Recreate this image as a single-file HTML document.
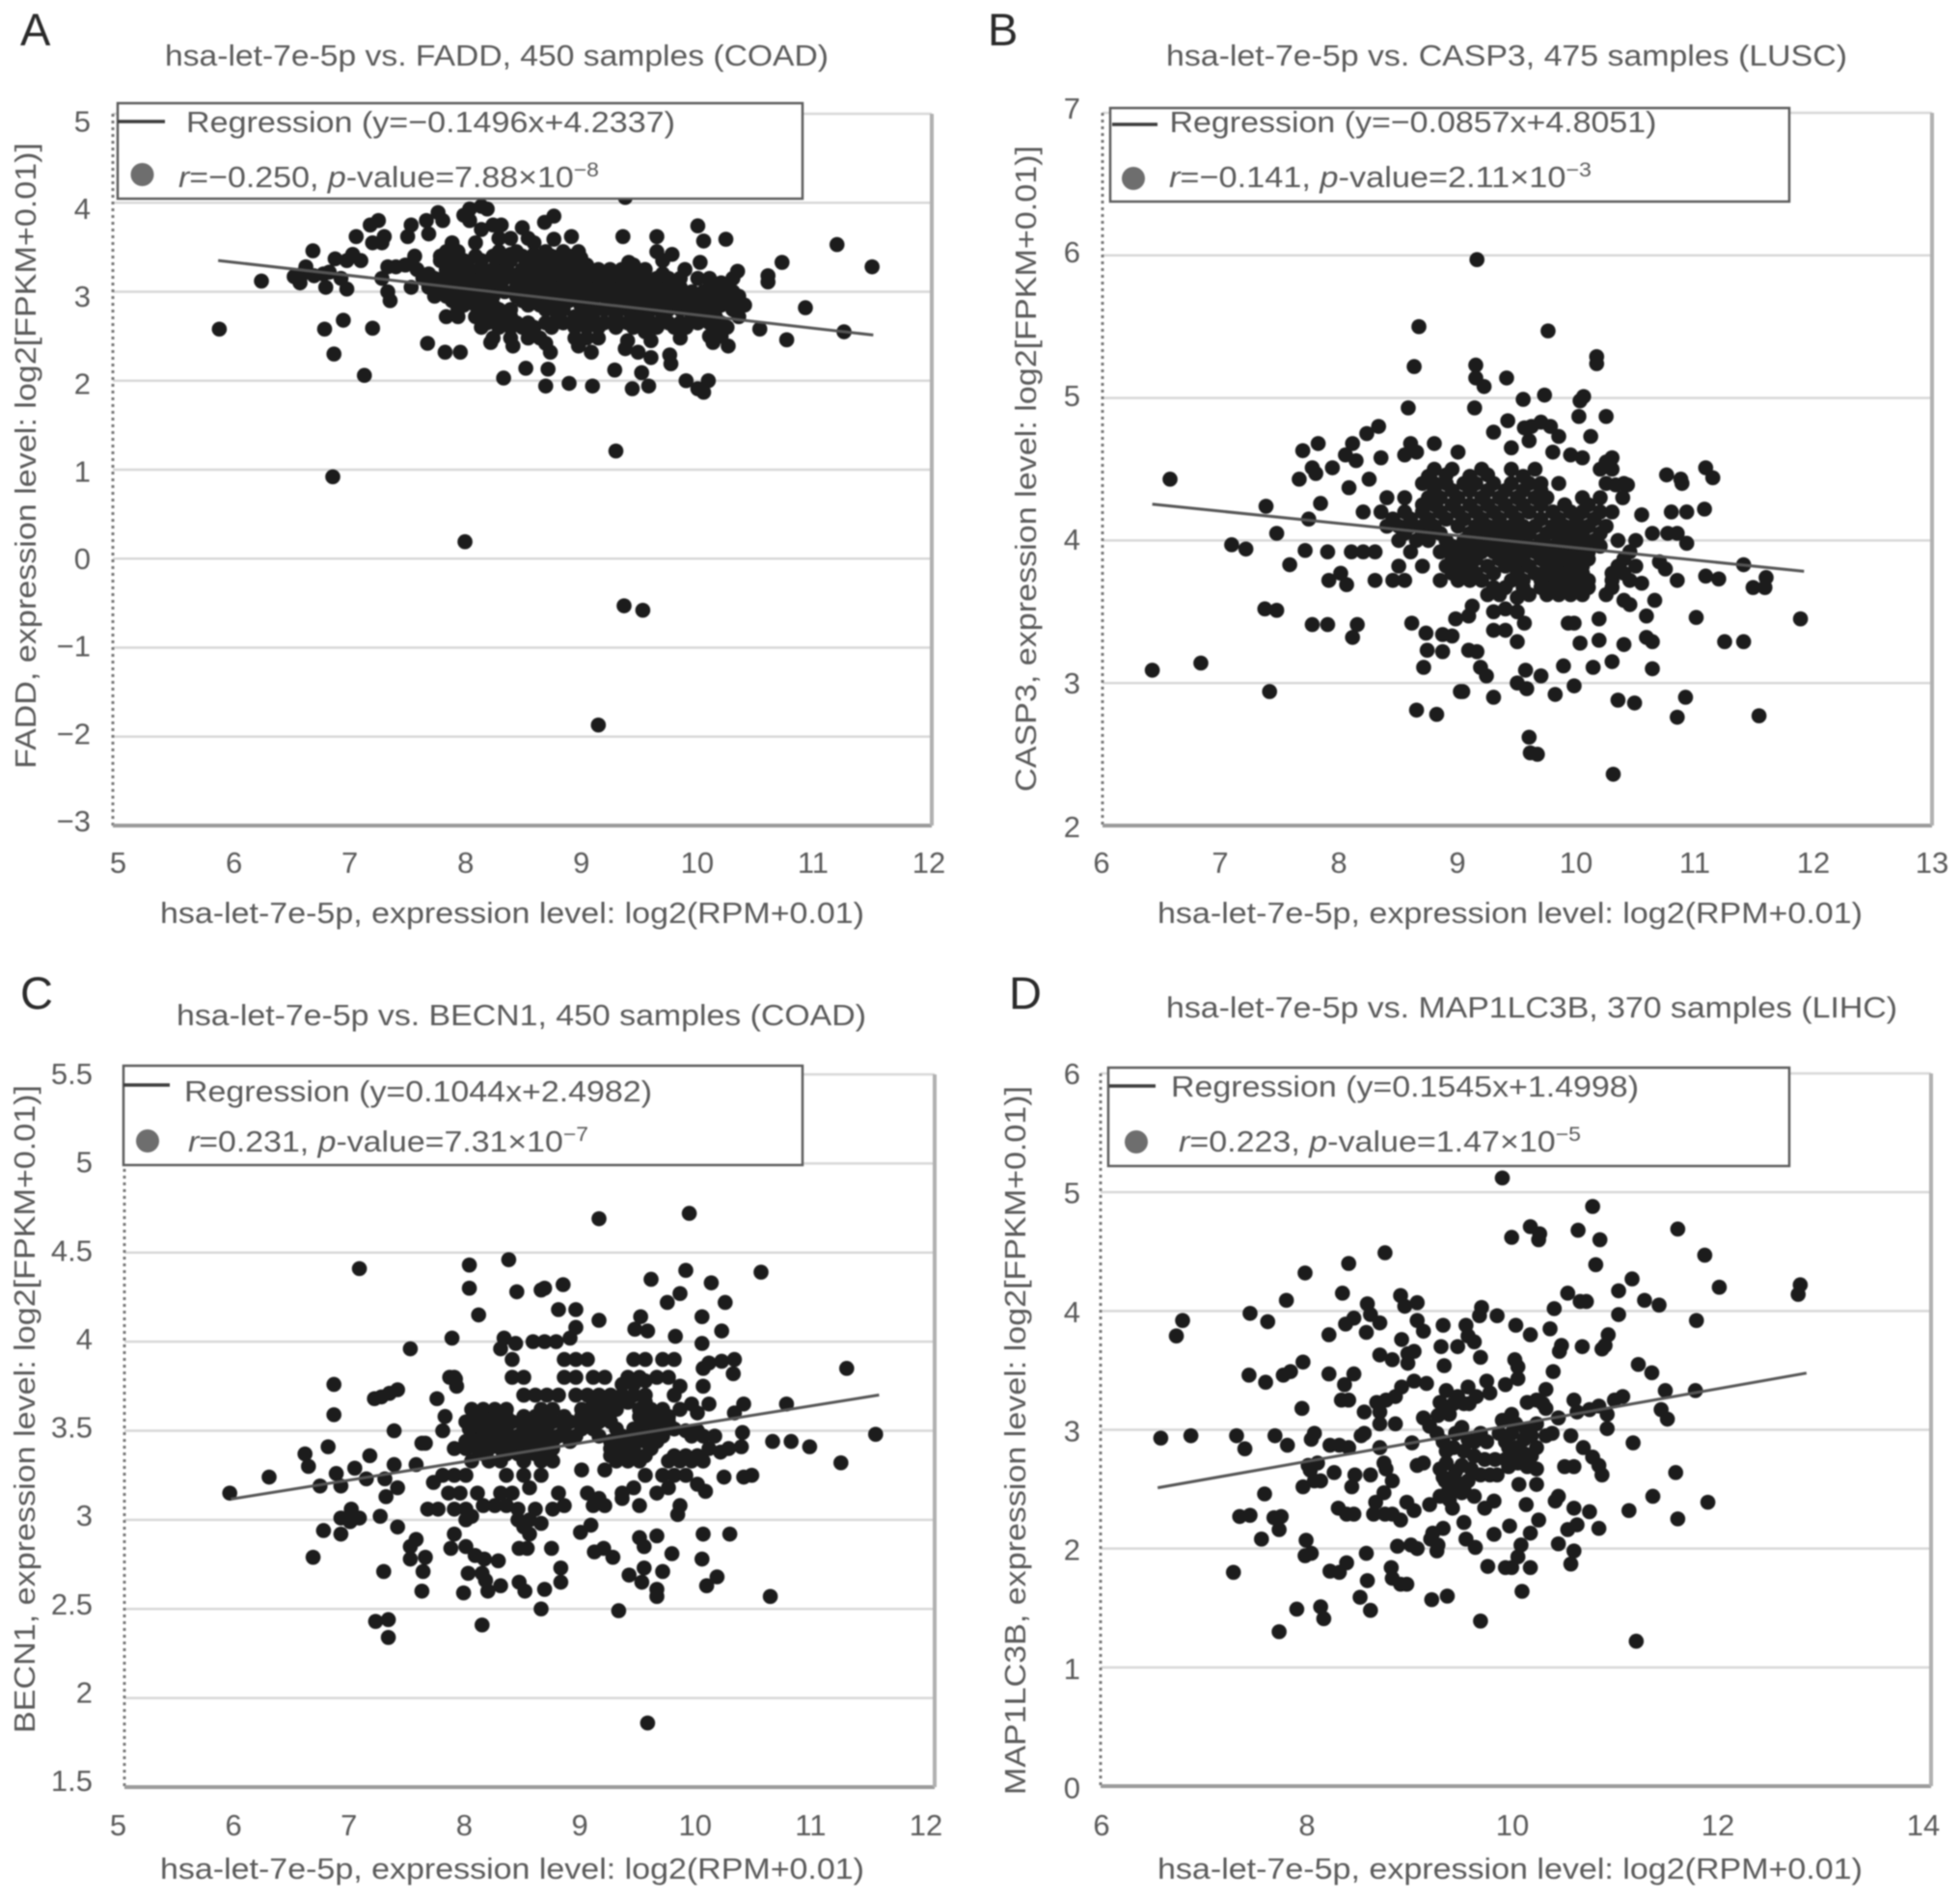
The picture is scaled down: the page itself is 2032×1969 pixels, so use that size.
<!DOCTYPE html>
<html lang="en">
<head>
<meta charset="utf-8">
<title>hsa-let-7e-5p correlation scatter plots</title>
<style>
html,body{margin:0;padding:0;background:#fff;width:2032px;height:1969px;overflow:hidden}
svg{display:block;filter:blur(0.9px)}
text{font-family:"Liberation Sans",sans-serif;fill:#5a5a5a}
.title{font-size:31px}
.axt{font-size:31px}
.leg{font-size:31px}
.letter{font-size:47px;fill:#2a2a2a}
.tick{font-size:31px}
.sup{font-size:21px}
</style>
</head>
<body>
<svg id="figure" xmlns="http://www.w3.org/2000/svg" width="2032" height="1969" viewBox="0 0 2032 1969">
<rect width="2032" height="1969" fill="#fff"/>

<g id="panel-a">
<text class="letter" x="21" y="47">A</text>
<text class="title" x="171" y="68" textLength="688" lengthAdjust="spacingAndGlyphs">hsa-let-7e-5p vs. FADD, 450 samples (COAD)</text>
<g id="plot-a"></g>
<text class="axt" x="166" y="957" textLength="730" lengthAdjust="spacingAndGlyphs">hsa-let-7e-5p, expression level: log2(RPM+0.01)</text>
<text class="axt" transform="translate(37 797) rotate(-90)" textLength="649" lengthAdjust="spacingAndGlyphs">FADD, expression level: log2[FPKM+0.01)]</text>
<g>
<rect x="122" y="107" width="710" height="99" fill="#fff" stroke="#5c5c5c" stroke-width="2.5"/>
<line x1="122" y1="126" x2="171" y2="126" stroke="#3c3c3c" stroke-width="3.5"/>
<circle cx="147.5" cy="181" r="12" fill="#6e6e6e"/>
<text class="leg" x="193" y="137" textLength="507" lengthAdjust="spacingAndGlyphs">Regression (y=−0.1496x+4.2337)</text>
<text class="leg" x="185" y="194" textLength="436" lengthAdjust="spacingAndGlyphs"><tspan font-style="italic">r</tspan>=−0.250, <tspan font-style="italic">p</tspan>-value=7.88×10<tspan class="sup" dy="-11">−8</tspan></text>
</g>
</g>

<g id="panel-b">
<text class="letter" x="1024" y="47">B</text>
<text class="title" x="1209" y="68" textLength="706" lengthAdjust="spacingAndGlyphs">hsa-let-7e-5p vs. CASP3, 475 samples (LUSC)</text>
<g id="plot-b"></g>
<text class="axt" x="1200" y="957" textLength="731" lengthAdjust="spacingAndGlyphs">hsa-let-7e-5p, expression level: log2(RPM+0.01)</text>
<text class="axt" transform="translate(1074 821) rotate(-90)" textLength="670" lengthAdjust="spacingAndGlyphs">CASP3, expression level: log2[FPKM+0.01)]</text>
<g>
<rect x="1151" y="112" width="704" height="97" fill="#fff" stroke="#5c5c5c" stroke-width="2.5"/>
<line x1="1153" y1="129" x2="1200" y2="129" stroke="#3c3c3c" stroke-width="3.5"/>
<circle cx="1175" cy="185" r="12" fill="#6e6e6e"/>
<text class="leg" x="1212.5" y="137" textLength="505" lengthAdjust="spacingAndGlyphs">Regression (y=−0.0857x+4.8051)</text>
<text class="leg" x="1212" y="194" textLength="438" lengthAdjust="spacingAndGlyphs"><tspan font-style="italic">r</tspan>=−0.141, <tspan font-style="italic">p</tspan>-value=2.11×10<tspan class="sup" dy="-11">−3</tspan></text>
</g>
</g>

<g id="panel-c">
<text class="letter" x="21" y="1046">C</text>
<text class="title" x="183" y="1063" textLength="715" lengthAdjust="spacingAndGlyphs">hsa-let-7e-5p vs. BECN1, 450 samples (COAD)</text>
<g id="plot-c"></g>
<text class="axt" x="166" y="1948" textLength="730" lengthAdjust="spacingAndGlyphs">hsa-let-7e-5p, expression level: log2(RPM+0.01)</text>
<text class="axt" transform="translate(36 1797) rotate(-90)" textLength="672" lengthAdjust="spacingAndGlyphs">BECN1, expression level: log2[FPKM+0.01)]</text>
<g>
<rect x="128" y="1105" width="704" height="103" fill="#fff" stroke="#5c5c5c" stroke-width="2.5"/>
<line x1="128" y1="1125" x2="176" y2="1125" stroke="#3c3c3c" stroke-width="3.5"/>
<circle cx="153" cy="1183" r="12" fill="#6e6e6e"/>
<text class="leg" x="191" y="1142" textLength="485" lengthAdjust="spacingAndGlyphs">Regression (y=0.1044x+2.4982)</text>
<text class="leg" x="195" y="1194" textLength="415" lengthAdjust="spacingAndGlyphs"><tspan font-style="italic">r</tspan>=0.231, <tspan font-style="italic">p</tspan>-value=7.31×10<tspan class="sup" dy="-11">−7</tspan></text>
</g>
</g>

<g id="panel-d">
<text class="letter" x="1046" y="1046">D</text>
<text class="title" x="1209" y="1055" textLength="758" lengthAdjust="spacingAndGlyphs">hsa-let-7e-5p vs. MAP1LC3B, 370 samples (LIHC)</text>
<g id="plot-d"></g>
<text class="axt" x="1200" y="1948" textLength="731" lengthAdjust="spacingAndGlyphs">hsa-let-7e-5p, expression level: log2(RPM+0.01)</text>
<text class="axt" transform="translate(1063 1861) rotate(-90)" textLength="735" lengthAdjust="spacingAndGlyphs">MAP1LC3B, expression level: log2[FPKM+0.01)]</text>
<g>
<rect x="1149" y="1107" width="706" height="102" fill="#fff" stroke="#5c5c5c" stroke-width="2.5"/>
<line x1="1150" y1="1126" x2="1198" y2="1126" stroke="#3c3c3c" stroke-width="3.5"/>
<circle cx="1178" cy="1184" r="12" fill="#6e6e6e"/>
<text class="leg" x="1214" y="1137" textLength="485" lengthAdjust="spacingAndGlyphs">Regression (y=0.1545x+1.4998)</text>
<text class="leg" x="1222" y="1194" textLength="417" lengthAdjust="spacingAndGlyphs"><tspan font-style="italic">r</tspan>=0.223, <tspan font-style="italic">p</tspan>-value=1.47×10<tspan class="sup" dy="-11">−5</tspan></text>
</g>
</g>
</svg>

<script>
const xTicksA=[5,6,7,8,9,10,11,12];
const yTicksA=[5,4,3,2,1,0,-1,-2,-3];
const xTicksB=[6,7,8,9,10,11,12,13];
const yTicksB=[7,6,5,4,3,2];
const xTicksC=[5,6,7,8,9,10,11,12];
const yTicksC=[5.5,5,4.5,4,3.5,3,2.5,2,1.5];
const xTicksD=[6,8,10,12,14];
const yTicksD=[6,5,4,3,2,1,0];

const regressionA=[-0.1496,4.2337,5.9,11.5];
const regressionB=[-0.0857,4.8051,6.42,11.92];
const regressionC=[0.1044,2.4982,5.92,11.52];
const regressionD=[0.1545,1.4998,6.55,12.8];

const pointsA=[[5.91,2.58],[6.27,3.12],[6.71,3.46],[6.81,2.58],[6.97,2.68],[6.89,2.3],[7.15,2.06],[7.22,2.59],[6.88,.92],[8.01,.19],[9.3,1.21],[9.37,-.53],[9.53,-.58],[9.15,-1.87],[11.19,3.53],[11.49,3.28],[10.92,2.82],[11.25,2.55],[10.76,2.46],[10.72,3.33],[10.6,3.18],[10.6,3.11],[10.53,2.58],[10.34,3.23],[10.24,3.59],[10,3.74],[10.05,3.57],
[6.55,3.17],[6.6,3.1],[6.62,3.2],[6.65,3.28],[6.72,3.18],[6.8,3.2],[6.82,3.05],[6.85,3.22],[6.9,3.37],[6.95,3.15],[7,3.03],[7,3.35],[7.05,3.42],[7.08,3.62],[7.12,3.35],[7.2,3.75],[7.22,3.55],[7.27,3.8],[7.3,3.55],[7.32,3.62],[7.3,3.15],[7.35,3],[7.37,2.9],[7.35,3.28],[7.42,3.28],[7.5,3.3],[7.52,3.62],[7.55,3.75],[7.58,3.4],[7.6,3.25],[7.55,3.05],[7.68,3.8],[7.7,3.65],[7.7,3.2],[7.65,3.15],[7.69,2.42],[7.84,2.32],[7.97,2.32],[7.78,3.89],[7.82,3.8],[8,3.86],[8.05,3.93],[8.15,3.96],[8.2,3.93],[9.38,4.06],
[8.05,3.8],[8.15,3.7],[8.25,3.75],[8.32,3.75],[8.4,3.6],[8.5,3.72],[8.55,3.6],[8.6,3.55],[8.77,3.85],[8.69,3.78],[8.77,3.59],[8.92,3.62],[8.98,3.45],[9.36,3.62],[9.65,3.62],[9.65,3.45],[9.78,3.42],[9.7,3.35],[9.41,3.33],[9.89,3.25],[10.02,3.33],[7.9,3.55],[8.1,3.55],[8.3,3.6],
[8.34,2.03],[8.53,2.14],[8.7,1.94],[8.72,2.13],[8.9,1.97],[9.1,1.94],[9.29,2.12],[9.44,1.91],[9.52,2.09],[9.58,1.94],[9.77,2.19],[9.9,2],[10,1.91],[10.05,1.87],[10.09,2],[8.23,2.43],[8.42,2.39],[8.74,2.32],[8.98,2.39],[9.09,2.32],[9.38,2.36],[9.49,2.32],[9.6,2.26],[9.76,2.29],[10.13,2.43],[10.26,2.39],
[7.85,3.45],[7.95,3.45],[8.3,3.45],[8.45,3.45],[8.7,3.45],[8.85,3.45],[8.95,3.35],[7.8,3.35],[7.9,3.35],[8,3.35],[8.15,3.35],[8.3,3.35],[8.4,3.35],[8.55,3.35],[8.65,3.35],[8.75,3.35],[8.85,3.35],[9.05,3.3],[9.45,3.3],
[7.85,3.25],[7.95,3.25],[8.05,3.25],[8.15,3.25],[8.25,3.25],[8.35,3.25],[8.5,3.25],[8.6,3.25],[8.7,3.25],[8.8,3.25],[8.9,3.25],[9,3.25],[9.15,3.25],[9.25,3.25],[9.35,3.25],[9.45,3.22],[9.55,3.25],
[7.75,3.15],[7.85,3.15],[7.95,3.15],[8.05,3.15],[8.15,3.15],[8.25,3.15],[8.35,3.15],[8.45,3.15],[8.55,3.15],[8.65,3.15],[8.75,3.15],[8.85,3.15],[8.95,3.15],[9.05,3.15],[9.15,3.15],[9.25,3.15],[9.35,3.15],[9.45,3.15],[9.55,3.15],[9.65,3.15],[9.75,3.15],[10,3.15],[10.3,3.15],
[7.7,3.05],[7.8,3.05],[7.9,3.05],[8,3.05],[8.1,3.05],[8.2,3.05],[8.3,3.05],[8.45,3.05],[8.55,3.05],[8.65,3.05],[8.75,3.05],[8.85,3.05],[8.95,3.05],[9.05,3.05],[9.15,3.05],[9.25,3.05],[9.35,3.05],[9.45,3.05],[9.55,3.05],[9.65,3.05],[9.75,3.05],[9.85,3.05],[10.1,3.05],[10.25,3.05],
[7.75,2.95],[7.85,2.95],[7.95,2.95],[8.05,2.95],[8.15,2.95],[8.25,2.95],[8.45,2.95],[8.55,2.95],[8.65,2.95],[8.75,2.95],[8.85,2.95],[8.95,2.95],[9.2,2.95],[9.3,2.95],[9.4,2.95],[9.5,2.95],[9.6,2.9],[9.7,2.95],[9.8,2.95],[9.9,2.95],[10,2.95],[10.1,2.95],[10.2,2.95],[10.35,2.95],
[8,2.85],[8.1,2.85],[8.25,2.85],[8.55,2.85],[8.65,2.85],[8.75,2.85],[9,2.85],[9.1,2.85],[9.25,2.85],[9.35,2.85],[9.5,2.85],[9.6,2.8],[9.65,2.85],[9.9,2.85],[10,2.85],[10.1,2.85],[10.2,2.85],[10.4,2.85],
[7.85,2.72],[7.95,2.72],[8.1,2.72],[8.25,2.72],[8.4,2.72],[8.45,2.65],[8.8,2.72],[8.95,2.72],[9.1,2.72],[9.3,2.72],[9.45,2.72],[9.55,2.72],[9.6,2.65],[9.7,2.72],[9.95,2.72],[10.05,2.72],[10.15,2.72],[10.35,2.72],
[8.15,2.6],[8.3,2.6],[8.4,2.6],[8.5,2.6],[8.6,2.6],[8.75,2.6],[8.95,2.6],[9.05,2.6],[9.15,2.6],[9.3,2.6],[9.45,2.6],[9.55,2.55],[9.65,2.6],[9.8,2.6],[9.9,2.6],[10.15,2.6],[10.25,2.6],
[8.25,2.48],[8.4,2.48],[8.55,2.48],[8.65,2.48],[8.7,2.42],[8.95,2.48],[9.05,2.48],[9.15,2.48],[9.4,2.45],[9.6,2.45],[9.85,2.48],[10.1,2.5],[10.2,2.5]];

const corePointsA=[[7.8,3.0],[7.9,3.0],[8.0,3.0],[8.1,3.0],[8.2,3.0],[8.35,3.0],[8.5,3.0],[8.6,3.0],[8.7,3.0],[8.8,3.0],[8.9,3.0],[9.0,3.0],[9.1,3.0],[9.25,3.0],[9.35,3.0],[9.45,3.0],[9.6,3.0],[9.8,3.0],[9.95,3.0],[10.05,3.0],[10.15,3.0],[10.3,3.0],
[7.9,2.9],[8.1,2.9],[8.2,2.9],[8.5,2.9],[8.7,2.9],[8.8,2.9],[8.9,2.9],[9.0,2.9],[9.1,2.9],[9.25,2.9],[9.35,2.9],[9.45,2.9],[9.55,2.9],[9.75,2.9],[9.85,2.9],[9.95,2.9],[10.05,2.9],[10.15,2.9],[10.25,2.9],
[7.95,2.8],[8.15,2.8],[8.3,2.8],[8.4,2.8],[8.7,2.8],[8.85,2.8],[9.05,2.8],[9.2,2.8],[9.4,2.8],[9.55,2.78],[9.75,2.8],[9.85,2.8],[10.05,2.8],[10.15,2.8],[10.3,2.8],
[8.2,2.65],[8.35,2.65],[8.55,2.65],[8.7,2.65],[8.85,2.65],[9.0,2.65],[9.1,2.65],[9.2,2.65],[9.4,2.65],[9.5,2.65],[9.75,2.65],[9.85,2.65],[10.0,2.65],[10.1,2.65],[10.2,2.65],
[7.8,3.4],[7.95,3.4],[8.1,3.4],[8.25,3.4],[8.4,3.42],[8.5,3.4],[8.6,3.42],[8.75,3.4],[8.9,3.4],[9.0,3.38],[7.85,3.2],[8.0,3.2],[8.2,3.2],[8.4,3.2],[8.55,3.2],[8.75,3.2],[8.95,3.2],[9.1,3.2],[9.3,3.2],[9.5,3.18],[9.7,3.2],[9.85,3.15],[10.1,3.15],[10.2,3.1]];

const pointsB=[[6.42,3.09],[6.57,4.43],[6.83,3.14],[7.09,3.97],[7.21,3.94],[7.38,4.24],[7.47,4.05],[7.58,3.83],[7.37,3.52],[7.47,3.51],[7.41,2.94],[7.71,3.93],[7.74,4.15],[7.66,4.43],[7.69,4.63],[7.82,4.68],[7.77,4.51],[7.8,4.47],[7.84,4.26],[7.77,3.41],[7.9,3.41],[7.9,3.92],[7.91,3.72],[7.94,4.51],[8.01,3.77],[8.06,3.69],[8.08,4.37],[8.05,4.6],[8.11,4.68],[8.14,4.56],[8.11,3.32],[8.15,3.41],[8.23,4.75],[8.33,4.8],[8.35,4.58],[8.25,4.43],
[9.16,5.97],[8.67,5.5],[9.76,5.47],[8.63,5.22],[9.15,5.23],[9.15,5.14],[9.22,5.08],[9.41,5.14],[10.17,5.29],[10.17,5.24],[8.58,4.93],[9.14,4.93],[9.55,4.99],[9.73,5.02],[10.03,4.98],[10.06,5.01],[10.02,4.87],[10.25,4.87],[9.42,4.84],[9.3,4.76],[9.56,4.79],[9.62,4.8],[9.7,4.83],[9.78,4.8],[10.12,4.73],[9.85,4.73],
[8.65,2.81],[8.82,2.78],[8.71,3.11],[8.61,3.42],[8.73,3.35],[8.74,3.23],[8.87,3.22],[8.87,3.34],[8.95,3.33],[8.98,3.45],[9.09,3.47],[9.12,3.54],[9.09,3.23],[9.16,3.22],[9.19,3.11],[9.24,3.05],[9.02,2.94],[9.04,2.94],[9.3,2.9],[9.5,3],[9.58,2.96],[9.57,3.09],[9.7,3.05],[9.82,2.92],[9.89,3.12],[9.98,2.98],[10.14,3.11],[10.3,3.15],[10.35,2.88],[10.49,2.86],[10.64,3.1],[10.85,2.76],[10.92,2.9],[9.6,2.62],[9.61,2.51],[9.67,2.5],[10.31,2.36],[11.54,2.77],[11.25,3.29],[11.41,3.29],[11.01,3.46],[11.89,3.45],[11.6,3.74],[11.49,3.67],[11.59,3.67],[11.41,3.83],[11.2,3.73],[11.09,3.75],[11.08,4.22],[11.15,4.44],[11.09,4.51],[10.89,4.4],[10.88,4.43],[10.76,4.46],[10.93,4.2],[10.8,4.2],[10.93,3.98],[10.77,4.05],[10.85,4.05],[10.64,4.05],[10.55,4.18],[10.43,4.39],[10.39,4.3],[10.33,4.39],
[10.03,3.28],[10.19,3.3],[10.4,3.27],[10.59,3.32],[10.64,3.29],[10.59,3.47],[10.66,3.58],[10.19,3.45],[9.93,3.42],[9.98,3.42],[9.5,3.29],[9.4,3.37],[9.3,3.37],[9.56,3.42],
[8.8,4.5],[8.95,4.5],[9.2,4.5],[9.45,4.5],[9.65,4.5],[9.8,4.62],[10.2,4.5],[10.3,4.5],[9,4.62],[8.65,4.62],[8.55,4.6],[8.6,4.68],[8.8,4.68],[9.45,4.65],[9.6,4.7],[9.95,4.6],[10.05,4.58],[10.25,4.55],[10.3,4.58],
[8.7,4.4],[8.8,4.4],[8.9,4.4],[9.05,4.4],[9.15,4.4],[9.3,4.4],[9.45,4.4],[9.6,4.4],[9.7,4.4],[9.85,4.4],[10.25,4.4],[10.4,4.4],
[8.4,4.3],[8.55,4.3],[8.75,4.3],[8.85,4.3],[9,4.3],[9.2,4.3],[9.35,4.3],[9.5,4.3],[9.65,4.3],[9.75,4.3],[10.05,4.3],[10.2,4.3],
[8.2,4.2],[8.35,4.2],[8.55,4.2],[8.7,4.2],[8.85,4.2],[9,4.2],[9.15,4.2],[9.3,4.2],[9.45,4.2],[9.6,4.2],[9.8,4.2],[9.95,4.2],[10.05,4.2],[10.2,4.2],[10.3,4.2],
[8.4,4.1],[8.5,4.1],[8.6,4.1],[8.7,4.1],[8.8,4.1],[9,4.1],[9.15,4.1],[9.25,4.1],[9.35,4.1],[9.45,4.1],[9.55,4.1],[9.65,4.1],[9.8,4.1],[9.9,4.1],[10,4.1],[10.1,4.1],[10.25,4.1],
[8.5,4],[8.65,4],[8.75,4],[8.9,4],[9.05,4],[9.15,4],[9.25,4],[9.35,4],[9.45,4],[9.55,4],[9.7,4],[9.85,4],[9.95,4],[10.05,4],[10.15,4],[10.35,4],[10.5,4],
[8.1,3.92],[8.2,3.92],[8.3,3.92],[8.6,3.92],[8.85,3.92],[8.95,3.92],[9.05,3.92],[9.2,3.92],[9.3,3.92],[9.4,3.92],[9.5,3.92],[9.65,3.92],[9.8,3.92],[9.9,3.92],[10,3.92],[10.1,3.92],[10.45,3.92],[10.7,3.85],
[8.5,3.82],[8.7,3.82],[8.9,3.82],[9,3.82],[9.1,3.82],[9.25,3.82],[9.4,3.82],[9.5,3.82],[9.6,3.82],[9.75,3.82],[9.85,3.82],[9.95,3.82],[10.05,3.82],[10.35,3.82],[10.5,3.82],[10.75,3.8],
[8.3,3.72],[8.45,3.72],[8.55,3.72],[8.85,3.72],[9,3.72],[9.1,3.72],[9.2,3.72],[9.45,3.72],[9.55,3.72],[9.7,3.72],[9.8,3.72],[9.9,3.72],[10,3.72],[10.1,3.72],[10.3,3.72],[10.45,3.72],[10.55,3.7],[10.85,3.72],
[9.25,3.62],[9.35,3.62],[9.5,3.6],[9.6,3.62],[9.75,3.62],[9.85,3.62],[9.95,3.62],[10.05,3.62],[10.25,3.62],[10.4,3.58],[10.45,3.55],[9.3,3.5],[9.4,3.52],[9.5,3.5]];

const corePointsB=[[8.75,4.45],[8.9,4.46],[9.1,4.45],[9.25,4.46],[9.55,4.45],[8.8,4.35],[8.95,4.35],[9.1,4.35],[9.25,4.35],[9.4,4.35],[9.55,4.35],[9.7,4.35],[8.7,4.25],[8.8,4.25],[8.95,4.25],[9.1,4.25],[9.25,4.25],[9.4,4.25],[9.55,4.25],[9.7,4.25],[9.9,4.25],[10.1,4.25],
[8.45,4.15],[8.6,4.15],[8.75,4.15],[8.9,4.15],[9.05,4.15],[9.2,4.15],[9.35,4.15],[9.5,4.15],[9.7,4.15],[9.85,4.15],[10,4.15],[10.15,4.15],[8.55,4.05],[8.7,4.05],[8.85,4.05],[9.1,4.05],[9.2,4.05],[9.3,4.05],[9.4,4.05],[9.5,4.05],[9.6,4.05],[9.75,4.05],[9.85,4.05],[9.95,4.05],[10.05,4.05],[10.2,4.05],
[8.95,3.96],[9.1,3.96],[9.2,3.96],[9.3,3.96],[9.4,3.96],[9.5,3.96],[9.6,3.96],[9.75,3.96],[9.9,3.96],[10.05,3.96],[10.2,3.96],[8.95,3.87],[9.05,3.87],[9.15,3.87],[9.35,3.87],[9.45,3.87],[9.55,3.87],[9.7,3.87],[9.8,3.87],[9.9,3.87],[10,3.87],[10.1,3.87],[10.4,3.87],
[8.95,3.77],[9.05,3.77],[9.15,3.77],[9.3,3.77],[9.5,3.77],[9.65,3.77],[9.75,3.77],[9.85,3.77],[9.95,3.77],[10.05,3.77],[10.3,3.77],[10.4,3.77],[9.3,3.67],[9.4,3.67],[9.55,3.67],[9.7,3.67],[9.8,3.67],[9.9,3.67],[10,3.67],[10.1,3.67],[10.3,3.67]];

const pointsC=[[5.91,3.15],[6.25,3.24],[6.56,3.37],[6.59,3.3],[6.69,3.19],[6.83,3.26],[6.87,3.19],[6.99,3.29],[7.12,3.36],[7.09,3.23],[6.81,3.76],[6.81,3.59],[6.76,3.41],[7.03,4.41],[6.72,2.94],[6.87,2.92],[6.63,2.79],[6.87,3.01],[6.96,3.06],[6.95,2.99],[7.03,3.01],[7.21,3.02],[7.26,3.13],[7.25,3.23],[7.36,3.18],[7.33,3.31],[7.33,3.5],[7.16,3.68],[7.22,3.69],[7.29,3.71],[7.36,3.73],[7.47,3.96],[7.36,2.96],[7.24,2.71],[7.17,2.43],[7.28,2.44],[7.28,2.34],[7.52,3.31],[7.57,3.43],[7.6,3.43],[7.7,3.68],[7.77,3.58],[7.75,3.5],[7.67,3.21],[7.62,3.06],[7.71,3.06],[7.47,2.85],[7.52,2.89],[7.47,2.78],[7.6,2.79],[7.58,2.71],[7.57,2.6],[7.83,4.02],[7.81,3.8],[7.86,3.79],[7.87,3.75],[7.98,4.43],[7.98,4.3],[8.06,4.15],[8.32,4.46],[8.39,4.28],[8.6,4.29],[8.63,4.3],[8.79,4.32],[8.75,4.18],[8.9,4.18],[9.1,4.69],[9.88,4.72],[9.85,4.4],[9.55,4.35],[10.07,4.33],[10.5,4.39],[10.19,4.22],[9.8,4.27],[9.69,4.22],[9.1,4.12],[9.99,4.14],[9.46,4.14],[9.41,4.07],[9.52,4.06],[9.76,4.03],[10.16,4.06],[9.99,3.99],[8.9,4.08],[8.85,4.02],[8.28,4.02],[8.38,3.99],[8.25,3.96],[8.53,4],[8.63,4],[8.73,4],
[11.24,3.85],[11.49,3.48],[11.19,3.32],[10.92,3.41],[10.76,3.44],[10.6,3.44],[10.72,3.65],[10.58,2.57],[9.52,1.86],[9.27,2.49],[8.09,2.41],[8.6,2.5],[7.93,2.59],[8.14,2.6],[8.25,2.63],[8.41,2.65],[8.46,2.6],[8.63,2.61],[8.77,2.65],[8.77,2.73],[7.97,2.7],[8.09,2.7],[8.12,2.66],[8.69,2.84],[8.41,2.84],[8.48,2.84],[7.82,2.84],[7.95,2.85],[8.03,2.8],[8.11,2.78],[8.23,2.77],[8.94,2.93],[9.03,2.97],[9.06,2.82],[9.14,2.84],[9.22,2.79],[9.36,2.69],[9.45,2.9],[9.49,2.85],[9.6,2.91],[9.49,2.73],[9.47,2.65],[9.6,2.61],[9.6,2.57],[9.65,2.71],[9.73,2.81],[10,2.92],[9.99,2.78],[10.03,2.63],[10.12,2.68],[10.23,2.92],[10.02,3.16],[10.18,3.24],[10.35,3.24],[10.42,3.25],[10.35,3.65],[10.27,3.6],[10.34,3.49],[10.33,3.41],[10.22,3.4],[10.16,3.89],[10.27,3.9],[10.26,3.82],
[8.35,3.9],[8.8,3.9],[8.9,3.9],[9,3.9],[9.4,3.9],[9.5,3.9],[9.65,3.9],[9.75,3.9],[10,3.85],[10.05,3.88],
[7.85,3.8],[8.35,3.8],[8.45,3.8],[8.8,3.8],[8.9,3.8],[9.05,3.8],[9.15,3.8],[9.35,3.8],[9.45,3.8],[9.6,3.8],[9.7,3.8],[9.8,3.75],[10,3.75],
[8.45,3.7],[8.55,3.7],[8.65,3.7],[8.75,3.7],[9,3.7],[9.1,3.7],[9.2,3.7],[9.3,3.7],[9.4,3.7],[9.5,3.7],[9.75,3.7],[9.9,3.65],
[8,3.62],[8.1,3.62],[8.2,3.62],[8.3,3.62],[8.6,3.62],[8.7,3.62],[8.95,3.62],[9.05,3.62],[9.15,3.62],[9.25,3.62],[9.45,3.62],[9.55,3.62],[9.65,3.62],[9.8,3.62],[9.95,3.6],[10.05,3.65],
[7.95,3.55],[8.05,3.55],[8.15,3.55],[8.25,3.55],[8.35,3.55],[8.5,3.55],[8.6,3.55],[8.7,3.55],[8.85,3.55],[9,3.55],[9.1,3.55],[9.2,3.55],[9.5,3.55],[9.6,3.55],[9.7,3.55],[9.85,3.5],
[8,3.47],[8.1,3.47],[8.2,3.47],[8.3,3.47],[8.4,3.47],[8.55,3.47],[8.65,3.47],[8.75,3.47],[8.9,3.47],[9.1,3.47],[9.3,3.47],[9.45,3.47],[9.55,3.47],[9.65,3.47],[9.9,3.47],[10,3.47],[10.1,3.47],
[7.85,3.4],[7.95,3.4],[8.05,3.4],[8.15,3.4],[8.25,3.4],[8.4,3.4],[8.5,3.4],[8.6,3.4],[8.7,3.4],[9.2,3.4],[9.3,3.4],[9.4,3.4],[9.55,3.4],[10.05,3.4],[10.15,3.38],
[8,3.33],[8.15,3.33],[8.25,3.33],[8.45,3.33],[8.6,3.33],[8.7,3.33],[9.25,3.33],[9.35,3.33],[9.45,3.33],[9.7,3.33],[9.8,3.33],[9.9,3.33],[10,3.33],
[7.75,3.25],[7.85,3.25],[7.95,3.25],[8.3,3.25],[8.45,3.25],[8.6,3.25],[8.95,3.28],[9.15,3.28],[9.5,3.25],[9.65,3.25],[9.75,3.25],[9.85,3.25],
[7.8,3.15],[7.9,3.15],[8.05,3.15],[8.25,3.15],[8.35,3.15],[8.5,3.18],[8.75,3.15],[9,3.15],[9.1,3.12],[9.3,3.15],[9.4,3.18],[9.6,3.15],[9.7,3.18],[9.95,3.2],
[7.85,3.06],[7.95,3.06],[8.1,3.08],[8.2,3.08],[8.3,3.08],[8.4,3.06],[8.55,3.06],[8.7,3.06],[8.8,3.08],[9.05,3.08],[9.15,3.08],[9.3,3.12],[9.45,3.08],[9.8,3.08],
[7.95,3],[8,3.02],[8.4,3],[8.5,3],[8.6,2.98],[9.78,3.03],[7.85,2.92],[8.5,2.92],[8.45,2.96]];

const corePointsC=[[8.05,3.58],[8.2,3.58],[8.3,3.58],[8.45,3.58],[8.55,3.58],[8.65,3.58],[8.8,3.58],[8.95,3.58],[9.1,3.6],[9.2,3.6],[9.45,3.58],[9.55,3.58],[9.7,3.58],[7.98,3.51],[8.1,3.51],[8.2,3.51],[8.3,3.51],[8.45,3.51],[8.55,3.51],[8.65,3.51],[8.8,3.51],[8.95,3.51],[9.05,3.51],[9.25,3.51],[9.4,3.51],[9.5,3.51],[9.6,3.51],[9.75,3.51],[9.95,3.5],
[7.95,3.44],[8.05,3.44],[8.15,3.44],[8.25,3.44],[8.35,3.44],[8.5,3.44],[8.6,3.44],[8.7,3.44],[8.85,3.44],[9.2,3.44],[9.35,3.44],[9.5,3.44],[9.6,3.44],[8.1,3.37],[8.3,3.37],[8.4,3.37],[8.55,3.37],[8.65,3.37],[9.2,3.36],[9.3,3.36],[9.4,3.36],[9.5,3.36],[9.75,3.36],[9.85,3.36],[9.95,3.36],
[9.05,3.66],[9.15,3.66],[9.25,3.66],[9.35,3.66],[9.5,3.66],[8.9,3.7],[9.4,3.76],[9.5,3.78],[9.3,3.76]];

const pointsD=[[6.58,2.93],[6.87,2.95],[7.31,2.95],[7.39,2.84],[7.28,1.8],[6.73,3.79],[6.79,3.92],[7.44,3.98],[7.61,3.91],[7.43,3.46],[7.59,3.4],[7.76,3.46],[7.83,3.49],[7.95,3.57],[7.79,4.09],[7.97,4.32],[8.33,4.15],[8.39,4.4],[8.74,4.49],[7.68,2.95],[7.8,2.87],[7.94,3.18],[7.58,2.46],[7.34,2.27],[7.44,2.28],[7.67,2.26],[7.74,2.27],[7.72,2.16],[7.55,2.08],[7.72,1.3],[7.89,1.49],[8.12,1.51],[8.15,1.41],[8.5,1.59],[8.6,1.48],[8.57,1.73],[9.19,1.57],[9.34,1.6],[9.66,1.39],[10.06,1.64],[11.16,1.22],[11.56,2.25],[11.85,2.39],[11.32,2.44],[11.09,2.32],[11.54,2.64],[11.13,2.89],[11.46,3.09],[11.4,3.17],[11.73,3.33],[11.44,3.33],[11.31,3.48],[11.18,3.55],[11.03,3.28],[10.95,3.25],[11.74,3.92],[11.96,4.2],[11.82,4.47],[11.56,4.69],[11.38,4.05],[11.24,4.09],[11.12,4.27],[10.99,4.17],[10.99,3.97],[10.89,3.8],[10.86,3.71],[10.83,3.68],[10.64,3.7],[10.77,4.39],[10.81,4.6],[10.74,4.88],[10.6,4.68],[10.23,4.65],[10.22,4.6],[10.14,4.71],[9.96,4.62],[9.87,5.12],[12.74,4.22],[12.72,4.14],[10.5,4.15],[10.37,4.02],[10.68,4.08],[10.62,4.08],[10.33,3.85],[10.14,3.8],[10,3.88],[9.82,3.96],[9.67,4.03],[9.65,3.96],[10.42,3.66],[10.44,3.71],[10.36,3.49],[10.29,3.34],[9.99,3.59],[10.02,3.53],[9.66,3.61],[9.6,3.74],[9.54,3.79],[9.52,3.88],[9.44,3.7],[9.28,3.7],[9.31,3.54],[9.3,3.88],[9.05,4.07],[8.89,4.13],[8.93,4.04],[9.05,3.92],[9.11,3.83],[8.57,4.06],[8.6,3.97],[8.69,3.9],[8.56,3.82],[8.44,3.94],[8.36,3.89],[8.2,3.8],[8.9,3.76],[9.02,3.66],[8.96,3.64],[8.69,3.63],[8.81,3.59],[8.96,3.56],[8.2,3.47],[8.44,3.47],[8.35,3.38],[8.32,3.25],[8.39,3.25],[9.14,3.39],[9.02,3.41],[8.9,3.36],[8.84,3.28],[8.75,3.25],[8.66,3.23],[8.54,3.15],[8.69,3.15],[8.69,3.05],[8.84,3.05],[8.54,2.97],[8.51,2.95],[8.06,2.97],[8.03,2.92],[8.21,2.87],[8.3,2.87],[8.39,2.85],[9,2.89],[8.69,2.85],
[10.8,2.17],[10.71,2.31],[10.56,2.34],[10.59,2.2],[10.5,2.16],[10.41,2.44],[10.38,2.4],[10.41,2.04],[10.56,1.98],[10.53,1.87],[10.22,2.24],[10.14,2.13],[10.1,2.37],[10.05,2.03],[10.02,1.93],[10.14,1.84],[9.96,1.84],[9.9,1.84],[9.94,2.19],[9.79,2.12],[9.73,1.85],[9.61,2.01],[9.52,2.08],[9.5,2.22],[9.25,2.03],[9.2,2.13],[9.3,2.17],[9.24,1.98],[9.18,2.08],[9.05,2],[8.99,2.03],[8.86,2.02],[8.95,1.7],[8.89,1.7],[8.81,1.75],[8.8,1.84],[8.56,1.96],[8.37,1.88],[8.3,1.8],[8.21,1.81],[8.03,1.96],[7.97,1.94],[7.98,2.07],[8.29,2.34],[8.37,2.29],[8.44,2.29],[8.63,2.29],[8.74,2.29],[8.81,2.29],[8.89,2.24],[8.65,2.39],[8.73,2.47],[8.81,2.57],[8.75,2.67],[8.73,2.72],[8.6,2.62],[8.45,2.62],[8.42,2.52],[8.25,2.64],[8.12,2.57],[8.06,2.57],[7.95,2.52],[8.02,2.66],[8.09,2.72],[8,2.7],[8.95,2.39],[9.02,2.32],[9.17,2.37],[9.05,2.7],[9.11,2.72],[9.79,2.4],[9.7,2.34],[9.6,2.44],[9.48,2.47],[9.36,2.41],[9.27,2.44],[9.39,2.34],[9.32,2.57],[9.42,2.57],[9.54,2.57],[9.57,2.67],[9.27,2.67],[9.33,2.72],[9.48,2.7],[9.66,2.62],[9.75,2.62],[9.82,2.62],[9.93,2.69],[10.02,2.72],[10.11,2.69],[10.2,2.67],[10.2,2.54],[10.03,2.54],[9.96,2.8],[10.08,2.8],[10.2,2.85],[10.29,2.95],[10.35,2.97],[10.41,3.1],[10.29,3.18],[10.2,3.25],[10.26,3.22],[10.11,3.23],[9.96,3.13],[9.87,3.08],[9.84,2.97],[9.96,2.97],[10.08,2.92],[9.93,2.85],[9.66,2.97],[9.6,2.9],[9.72,2.9],[9.54,2.92],[9.42,2.97],[9.48,3.02],[9.3,2.9],[9.33,2.82],[9.11,3.1],[9.17,3.03],[9.24,2.97],[9.36,3.13],[9.27,3.23],[9.33,3.33],[9.44,3.28],[9.54,3.36],[9.72,3.41],[9.75,3.31],[9.62,3.28],[9.9,3.38],[10.02,3.43],[10.56,3.25],[10.59,3.15],[10.71,3.17],[10.8,3.2],[10.88,3.13],[10.88,3.01],[10.53,2.95],[10.65,2.85],[10.74,2.77],[10.8,2.7],[10.83,2.62],[10.47,2.69],[10.56,2.69]];

const corePointsD=[[9.3,3.2],[9.25,3.12],[9.4,3.22],[9.5,3.22],[9.4,2.85],[9.5,2.82],[9.6,2.78],[9.3,2.6],[9.4,2.5],[9.5,2.5],[9.35,2.48],[9.42,2.65],[9.7,2.75],[9.8,2.75],[9.9,2.75],[10,2.85],[10.15,2.78],[9.9,2.9],[10,3.05],[10.1,3.0],[10.2,3.05],[10.15,2.95],[9.55,3.22]];

const panelConfigs=[
 {id:'a',pts:pointsA,core:corePointsA,reg:regressionA,xt:xTicksA,yt:yTicksA,left:117,right:966,top:118,bottom:856,lx0:122.5,lx1:963,ly0:125.5,ly1:851,lr:94,xb:905},
 {id:'b',pts:pointsB,core:corePointsB,reg:regressionB,xt:xTicksB,yt:yTicksB,left:1143,right:2003,top:117,bottom:856,lx0:1142,lx1:2003,ly0:112,ly1:857,lr:1120,xb:905},
 {id:'c',pts:pointsC,core:corePointsC,reg:regressionC,xt:xTicksC,yt:yTicksC,left:129,right:969,top:1114,bottom:1853,lx0:122.5,lx1:960,ly0:1113,ly1:1846,lr:96,xb:1903},
 {id:'d',pts:pointsD,core:corePointsD,reg:regressionD,xt:xTicksD,yt:yTicksD,left:1141,right:2002,top:1113,bottom:1852,lx0:1142,lx1:1994,ly0:1113,ly1:1853.5,lr:1120,xb:1903}
];
const SVG_NS='http://www.w3.org/2000/svg';
function mk(tag,attrs,parent){
  const el=document.createElementNS(SVG_NS,tag);
  for(const k in attrs){el.setAttribute(k,attrs[k]);}
  parent.appendChild(el);
  return el;
}
panelConfigs.forEach(function(p){
  const g=document.getElementById('plot-'+p.id);
  const xMin=p.xt[0],xMax=p.xt[p.xt.length-1],yMax=p.yt[0],yMin=p.yt[p.yt.length-1];
  const sx=function(v){return p.left+(v-xMin)/(xMax-xMin)*(p.right-p.left);};
  const sy=function(v){return p.bottom-(v-yMin)/(yMax-yMin)*(p.bottom-p.top);};
  const labelX=function(v){return p.lx0+(v-xMin)/(xMax-xMin)*(p.lx1-p.lx0);};
  const labelY=function(v){return p.ly1-(v-yMin)/(yMax-yMin)*(p.ly1-p.ly0);};

  p.yt.forEach(function(v){
    if(v===yMin){return;}
    const grid=mk('line',{x1:p.left,x2:p.right,y1:sy(v),y2:sy(v),stroke:'#d8d8d8','stroke-width':2.5},g);
    
    
  });
  p.yt.forEach(function(v){
    const t=mk('text',{x:p.lr,y:labelY(v)+11,'text-anchor':'end','class':'tick'},g);
    t.textContent=String(v).replace('-','−');
    
    
  });
  p.xt.forEach(function(v){
    const t=mk('text',{x:labelX(v),y:p.xb,'text-anchor':'middle','class':'tick'},g);
    t.textContent=String(v);
    
    
  });
  const axisLeft=mk('line',{x1:p.left,x2:p.left,y1:p.top,y2:p.bottom,stroke:'#777','stroke-width':3,'stroke-dasharray':'3 4'},g);
  
  
  const axisBottom=mk('line',{x1:p.left,x2:p.right,y1:p.bottom,y2:p.bottom,stroke:'#9a9a9a','stroke-width':4},g);
  
  
  const frameRight=mk('line',{x1:p.right,x2:p.right,y1:p.top,y2:p.bottom,stroke:'#b0b0b0','stroke-width':4},g);
  
  

  p.pts.concat(p.core).forEach(function(pt){
    const c=mk('circle',{cx:sx(pt[0]),cy:sy(pt[1]),r:7.8,fill:'#1c1c1c'},g);
    
    
  });

  const r=p.reg;
  const line=mk('line',{x1:sx(r[2]),y1:sy(r[0]*r[2]+r[1]),x2:sx(r[3]),y2:sy(r[0]*r[3]+r[1]),stroke:'#555','stroke-width':3},g);
  
  
});
</script>
</body>
</html>
